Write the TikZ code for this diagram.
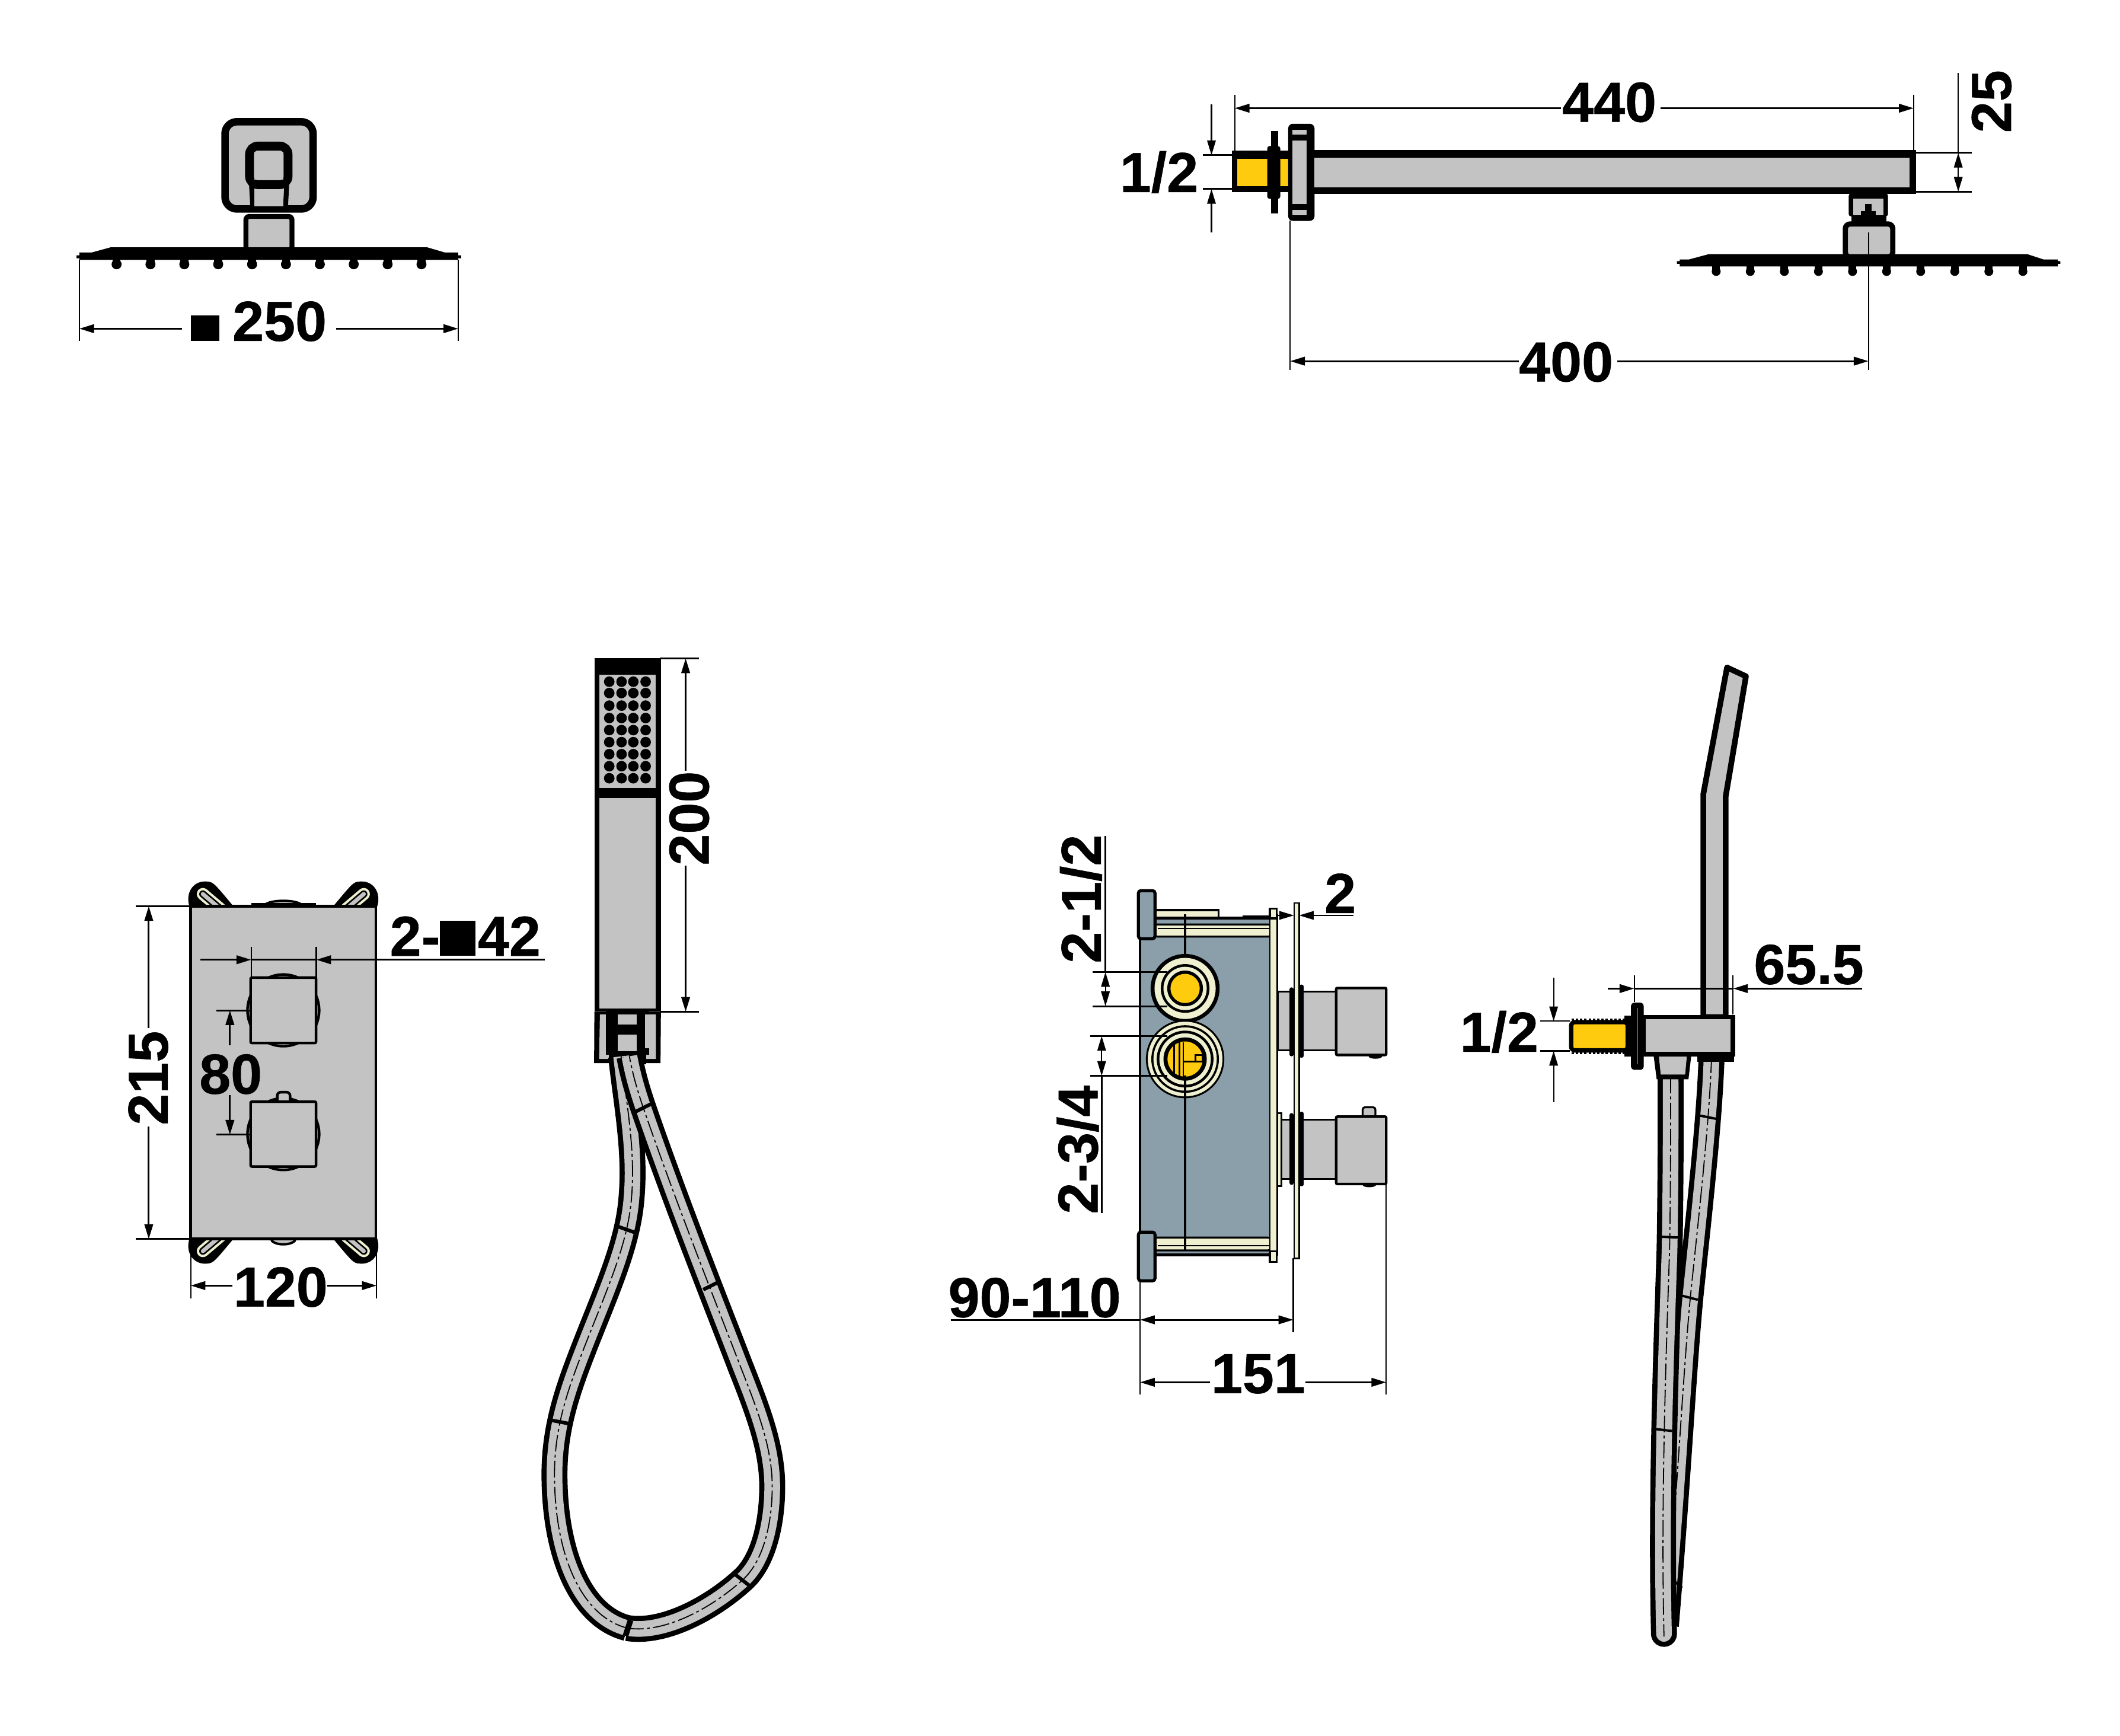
\documentclass[tikz,border=0pt]{standalone}
\usepackage{fontspec}
\setmainfont{Liberation Sans}
\newfontfamily\labf[UprightFont=* Bold,FakeBold=0.6]{Liberation Sans}
\usetikzlibrary{arrows.meta}
\definecolor{gy}{HTML}{C3C3C3}
\definecolor{pale}{HTML}{EEF0D0}
\definecolor{yel}{HTML}{FFCB0F}
\definecolor{blu}{HTML}{8A9FAA}
\def\uu{0.5703pt}
\tikzset{
  lab/.style={font=\fontsize{23.8}{24}\labf,inner sep=0pt,anchor=base,text=black},
  dimline/.style={line width=0.75pt},
  ext/.style={line width=0.55pt},
  gfill/.style={fill=gy,draw=black},
  blk/.style={fill=black,draw=none},
  >={Triangle[length=6.2pt,width=3.6pt]},
  tubeO/.style={line width=19.2*\uu,black},
  tubeI/.style={line width=11.6*\uu,gy},
  tubeD/.style={line width=0.45pt,black,dash pattern=on 7pt off 1.4pt on 1.2pt off 1.4pt},
  collar/.style={line width=1.5pt,black},
}
\newcommand{\tube}[1]{%
  \draw[tubeO] #1;
  \draw[tubeI] #1;
  \draw[tubeD] #1;}
\newcommand{\ear}[2]{%
  \begin{scope}[shift={(209.5,793)},xscale=#1,yscale=#2]
    \draw[fill=black,line width=1.2pt] (-68,-122) .. controls (-72,-132) and (-66,-142) .. (-55,-140) .. controls (-52,-139.5) and (-50,-137) .. (-37.5,-122) -- cycle;
    \draw[line width=9*\uu,pale,line cap=round] (-59.5,-132) -- (-46.5,-121);
    \draw[line width=5.4*\uu,black,line cap=round] (-59.5,-132) -- (-46.5,-121);
    \draw[line width=3*\uu,gy,line cap=round] (-59.5,-132) -- (-46.5,-121);
  \end{scope}}
\begin{document}
\begin{tikzpicture}[x=0.5703pt,y=-0.5703pt]
\useasboundingbox (0,0) rectangle (1567.6,1283.4);
\fill[white] (0,0) rectangle (1567.6,1283.4);

% ---------- top-left rain head, front view
\draw[gfill,line width=5.5*\uu,rounded corners=5pt] (166.4,90) rectangle (231.5,154.5);
\draw[black,fill=gy,line width=3.6*\uu] (186,137) -- (187,155) (211,155) -- (212,137);
\fill[gy] (188,141.5) rectangle (209.4,152.5);
\draw[gfill,line width=6.5*\uu,rounded corners=3.5pt] (184.5,108) rectangle (213,136.5);
\fill[gy] (188,112) rectangle (209.5,133);
\draw[black,line width=3.7*\uu,fill=gy,rounded corners=1.5pt] (181.8,160) rectangle (215.9,185);
\fill[black] (58.7,186.7) -- (67.7,186.7) -- (82,182.8) -- (315.7,182.8) -- (329,186.7) -- (338.8,186.7) -- (338.8,188.8) -- (341,188.8) -- (341,191) -- (338.8,191) -- (338.8,192.2) -- (58.7,192.2) -- (58.7,191) -- (56.6,191) -- (56.6,188.8) -- (58.7,188.8) -- cycle;
\foreach \k [evaluate=\k as \x using 86.2+25.05*\k] in {0,...,9} {
  \fill[black] (\x-3,191) rectangle (\x+3,195.5);
  \fill[black] (\x,195.4) circle (3.7);
}
\draw[ext] (58.7,192) -- (58.7,252);
\draw[ext] (338.8,192) -- (338.8,252);
\draw[dimline,<-] (58.7,243) -- (134.6,243);
\draw[dimline,->] (248.6,243) -- (338.8,243);
\node[lab] (d250) at (191.4,252) {\rule{11.9pt}{10.7pt}\hspace{5.6pt}250};

% ---------- top-right arm, side view
\fill[black] (911,111.2) rectangle (954,142);
\fill[yel] (914.8,117.4) rectangle (952.5,137.7);
\fill[black,rounded corners=1pt] (937,108) rectangle (946.7,147);
\fill[black] (940,97) rectangle (945,158);
\fill[black,rounded corners=2pt] (952.5,91.5) rectangle (972,163.3);
\fill[gy] (955.8,103.8) rectangle (966,151);
\fill[gy] (955.8,96) rectangle (966,99.7);
\fill[gy] (955.8,155) rectangle (966,159);
\fill[black] (972,110.8) rectangle (1417,143.5);
\fill[gy] (972,116.6) rectangle (1412,138.5);
\fill[black,rounded corners=1pt] (1367,143) rectangle (1396,160);
\fill[gy] (1370.5,147) rectangle (1392.5,159);
\fill[black] (1379,151) rectangle (1384,160);
\fill[black] (1376,156) rectangle (1387,162);
\fill[black] (1369,159) rectangle (1395,166);
\draw[black,line width=3.9*\uu,fill=gy,rounded corners=2pt] (1364.5,165.6) rectangle (1399.6,190);
\fill[black] (1242,191.8) -- (1249,191.8) -- (1263.5,187.9) -- (1499,187.9) -- (1511,191.8) -- (1521.6,191.8) -- (1521.6,193) -- (1523.5,193) -- (1523.5,195) -- (1521.6,195) -- (1521.6,197) -- (1242,197) -- (1242,195) -- (1240,195) -- (1240,193) -- (1242,193) -- cycle;
\foreach \k [evaluate=\k as \x using 1269+25.2*\k] in {0,...,9} {
  \fill[black] (\x-2.8,196) rectangle (\x+2.8,200.5);
  \fill[black] (\x,200.7) circle (3.3);
}
% arm dimensions
\draw[ext] (913,70) -- (913,113);
\draw[ext] (1415,70) -- (1415,112);
\draw[dimline,<-] (913,80) -- (1154,80);
\draw[dimline,->] (1228,80) -- (1415,80);
\node[lab] (d440) at (1190,90) {440};
\draw[dimline] (1417,113) -- (1458,113);
\draw[dimline] (1417,141.7) -- (1458,141.7);
\draw[ext] (1448,54) -- (1448,113);
\draw[ext,<->] (1448,113) -- (1448,141.7);
\node[lab,rotate=90] (d25) at (1487,75) {25};
\draw[dimline] (889.6,114.7) -- (913,114.7);
\draw[dimline] (889.6,139.8) -- (913,139.8);
\draw[ext,->] (895.8,77) -- (895.8,114.7);
\draw[ext,->] (895.8,171.7) -- (895.8,139.8);
\node[lab] (dhalfa) at (857,142) {1/2};
\draw[ext] (954,163) -- (954,273.5);
\draw[ext] (1381.6,172) -- (1381.6,273.5);
\draw[dimline,<-] (954,267) -- (1123,267);
\draw[dimline,->] (1196,267) -- (1381.6,267);
\node[lab] (d400) at (1158,282) {400};

% ---------- thermostat panel front
\ear{1}{1}\ear{-1}{1}\ear{1}{-1}\ear{-1}{-1}
\draw[black,fill=gy,line width=1pt] (209.5,670) ellipse (14 and 4);
\draw[black,fill=gy,line width=1pt] (209.5,916) ellipse (9 and 4);
\fill[black] (185.7,667.6) rectangle (233.7,670);
\draw[gfill,line width=1.1pt] (141,670) rectangle (278,916);
\draw[gfill,line width=1.1pt] (209.5,747) circle (26.5);
\draw[gfill,line width=1.1pt] (209.5,838.5) circle (26.5);
\draw[gfill,line width=1.1pt,rounded corners=1.5pt] (205,807.5) rectangle (214.5,816);
\draw[gfill,line width=1.1pt,rounded corners=.6pt] (185.3,722.8) rectangle (233.7,771.2);
\draw[gfill,line width=1.1pt,rounded corners=.6pt] (185.3,814.5) rectangle (233.7,862.5);
% panel dimensions
\draw[dimline] (100.5,670) -- (141,670);
\draw[dimline] (100.5,916) -- (141,916);
\draw[dimline,<-] (110,670) -- (110,760);
\draw[dimline,->] (110,833) -- (110,916);
\node[lab,rotate=90] (d215) at (124,797) {215};
\draw[ext] (185.7,700) -- (185.7,723);
\draw[ext] (233.9,700) -- (233.9,723);
\draw[dimline,->] (148,709.6) -- (185.7,709.6);
\draw[dimline] (185.7,709.6) -- (233.9,709.6);
\draw[dimline,<-] (233.9,709.6) -- (402.7,709.6);
\node[lab] (d242) at (344,706.7) {2-\rule{14.9pt}{14.7pt}\hspace{1pt}42};
\draw[dimline] (160,747) -- (185,747);
\draw[dimline] (160,838.9) -- (185,838.9);
\draw[dimline,<-] (170,747) -- (170,772.7);
\draw[dimline,->] (170,809.7) -- (170,838.9);
\node[lab] (d80) at (170.6,808.6) {80};
\draw[ext] (141,916) -- (141,960);
\draw[ext] (278.5,905) -- (278.5,960);
\draw[dimline,<-] (141,950.5) -- (172,950.5);
\draw[dimline,->] (242,950.5) -- (278.5,950.5);
\node[lab] (d120) at (207.5,966) {120};

% ---------- hand shower front
\fill[black] (439.5,748) -- (439.3,786) -- (488.4,786) -- (488.7,748) -- cycle;
\fill[gy] (443.6,750) -- (443,783) -- (485,783) -- (485,750) -- cycle;
\fill[black] (448,748) -- (448,780) -- (480,780) -- (480,748) -- cycle;
\fill[gy] (456.7,750) rectangle (471,757.3);
\fill[gy] (456.7,765) rectangle (471,777);
\fill[gy] (477,750) rectangle (480,775);
\fill[black] (450,777) rectangle (478,787);
\fill[black] (452,787) -- (476,787) -- (474,795) -- (453,795) -- cycle;
\fill[black] (439.5,486.5) rectangle (488.7,748);
\fill[gy] (443,499) rectangle (485,582.5);
\fill[gy] (443,590) rectangle (485,745.5);
\foreach \xx in {450.5,459.6,468.3,477.4}
  \foreach \yy in {504,512.4,521.7,530.9,539.8,548.7,557.6,566.5,575.4}
    \fill[black] (\xx,\yy) circle (3.9);
\draw[dimline] (488,486.8) -- (517,486.8);
\draw[dimline] (488,748) -- (517,748);
\draw[dimline,<-] (507,486.8) -- (507,570);
\draw[dimline,->] (507,640) -- (507,748);
\node[lab,rotate=90] (d200) at (524,605) {200};

% ---------- hose loop
\tube{(459.3,781) .. controls (463,815) and (470,850) .. (467,885) .. controls (464.5,920) and (448,955) .. (431.7,997) .. controls (420,1027) and (410,1055) .. (410,1090) .. controls (410,1150) and (430,1195) .. (463.7,1203.7)}
\tube{(463.7,1203.7) .. controls (490,1208) and (525,1190) .. (549,1168.2) .. controls (565,1154) and (571,1125) .. (571,1099) .. controls (571,1070) and (560,1042) .. (546.9,1008.8) .. controls (534,975) and (500,890) .. (474.9,816.8) .. controls (471,805) and (468,795) .. (465.4,781)}
\draw[collar] (457.4,907) -- (469.8,911.4);
\draw[collar] (407.3,1050) -- (420.4,1052.5);
\draw[collar,line width=2.4pt] (466.2,1198) -- (462.5,1209.5);
\draw[collar] (544,1164.4) -- (554.1,1172.3);
\draw[collar] (520,953.5) -- (531.6,947.7);
\draw[collar] (469.8,822) -- (481.4,816.2);

% ---------- mixing box side view
\draw[fill=blu,line width=1.2pt] (843,678.7) rectangle (941,927.7);
\draw[fill=pale,line width=.9pt] (854,673) rectangle (901,678.7);
\fill[black] (919,677) rectangle (939,679.5);
\draw[fill=pale,line width=.8pt,rounded corners=2pt] (852,683.5) rectangle (941,692.5);
\draw[line width=.6pt] (856,686.5) -- (941,686.5);
\draw[fill=pale,line width=.8pt,rounded corners=2pt] (852,915) rectangle (941,924.5);
\draw[line width=.6pt] (856,921) -- (941,921);
\draw[fill=blu,line width=1.3pt,rounded corners=1pt] (841.8,658.5) rectangle (854,694);
\draw[fill=blu,line width=1.3pt,rounded corners=1pt] (841.8,911) rectangle (854,947);
\draw[fill=pale,line width=.7pt] (939,676) rectangle (944.6,928);
\draw[fill=pale,line width=.8pt] (939,671.7) rectangle (944,679);
\draw[fill=pale,line width=.8pt] (939,925) rectangle (944,933);
\draw[line width=.8pt] (876.3,676) -- (876.3,925);
% pipe connections
\foreach \cy/\r in {730.8/25.5,783/29} {
  \fill[black] (876.3,\cy) circle (\r);
}
\fill[pale] (876.3,730.8) circle (22.6);
\fill[black] (876.3,730.8) circle (18);
\fill[pale] (876.3,730.8) circle (16);
\fill[black] (876.3,730.8) circle (13.2);
\fill[yel] (876.3,730.8) circle (10.8);
\fill[pale] (876.3,783) circle (27.6);
\fill[black] (876.3,783) circle (25);
\fill[pale] (876.3,783) circle (23.4);
\fill[black] (876.3,783) circle (21);
\fill[pale] (876.3,783) circle (19);
\fill[black] (876.3,783) circle (16);
\fill[yel] (876.3,783) circle (13);
\draw[line width=.7pt] (868.2,771.5) -- (868.2,795);
\draw[line width=.7pt] (872,770.5) -- (872,796);
\draw[line width=.7pt] (875,785) -- (889,785);
\draw[line width=.7pt] (875,770.5) -- (875,796);
\draw[line width=.7pt] (884,785) rectangle (889,780);
\draw[line width=.8pt] (876.3,795) -- (876.3,812);
% knobs
\draw[fill=gy,line width=.8pt] (945,733) rectangle (988,776.6);
\draw[fill=pale,line width=.7pt] (944.6,823) rectangle (947.5,877);
\draw[fill=gy,line width=.8pt] (947.5,827.8) rectangle (988,871.7);
\draw[fill=pale,line width=.6pt] (956.9,667.5) rectangle (960.6,930.5);
\fill[black,rounded corners=.8pt] (953.5,730) rectangle (956.5,781);
\fill[black,rounded corners=.8pt] (960.6,728) rectangle (964,782);
\fill[black,rounded corners=.8pt] (953.5,823) rectangle (956.5,876);
\fill[black,rounded corners=.8pt] (960.6,822) rectangle (964,877);
\fill[black] (1017,781) ellipse (5 and 1.8);
\fill[black] (1012.5,876) ellipse (5 and 1.8);
\draw[gfill,line width=.8pt,rounded corners=1pt] (1007.6,818.6) rectangle (1017,827);
\draw[gfill,line width=1.1pt,rounded corners=.5pt] (988,730.5) rectangle (1025,780);
\draw[gfill,line width=1.1pt,rounded corners=.5pt] (988,825.6) rectangle (1025,875.4);
% box dimensions
\draw[dimline] (808,718.7) -- (863,718.7);
\draw[dimline] (808,743.9) -- (863,743.9);
\draw[dimline] (817.4,618) -- (817.4,718.7);
\draw[ext,<->] (817.4,718.7) -- (817.4,743.9);
\node[lab,rotate=90] (d212) at (814,664.6) {2-1/2};
\draw[dimline] (806,766) -- (863,766);
\draw[dimline] (806,795.4) -- (863,795.4);
\draw[dimline] (814.6,795.4) -- (814.6,897);
\draw[ext,<->] (814.6,766) -- (814.6,795.4);
\node[lab,rotate=90] (d234) at (811.6,850) {2-3/4};
\draw[ext,->] (945,676.8) -- (956.8,676.8);
\draw[ext,<-] (960.6,676.8) -- (1000.7,676.8);
\node[lab] (d2) at (991,675) {2};
\draw[ext] (956.3,930) -- (956.3,985);
\draw[ext] (843,947) -- (843,1031);
\draw[ext] (1025,876) -- (1025,1031);
\draw[dimline] (703,975.8) -- (843,975.8);
\draw[dimline,<->] (843,975.8) -- (956.3,975.8);
\node[lab] (d90) at (765,973.8) {90-110};
\draw[dimline,<-] (843,1022) -- (894.8,1022);
\draw[dimline,->] (965.2,1022) -- (1025,1022);
\node[lab] (d151) at (930.4,1030) {151};

% ---------- hand shower side view
\tube{(1265.6,781) .. controls (1264,830) and (1256,900) .. (1250,958) .. controls (1245,1010) and (1241,1090) .. (1231.8,1202)}
\draw[tubeO,line cap=round] (1235.3,796) .. controls (1235.5,850) and (1235,900) .. (1234.5,925) .. controls (1232,1000) and (1228,1110) .. (1230.4,1208);
\draw[tubeI,line cap=round] (1235.3,796) .. controls (1235.5,850) and (1235,900) .. (1234.5,925) .. controls (1232,1000) and (1228,1110) .. (1230.4,1208);
\draw[tubeD] (1235.3,796) .. controls (1235.5,850) and (1235,900) .. (1234.5,925) .. controls (1232,1000) and (1228,1110) .. (1230.4,1210);
\draw[collar,line width=1pt] (1228.5,914.4) -- (1241.6,915);
\draw[collar,line width=1pt] (1223.4,1056.5) -- (1236.5,1058);
\draw[collar,line width=1pt] (1255.4,824.5) -- (1270,827.4);
\draw[collar,line width=1pt] (1243.8,958) -- (1255.4,961);
\draw[collar,line width=1pt] (1238.7,1169.6) -- (1243.8,1174);
\fill[black] (1222.8,781) -- (1250.5,781) -- (1248.5,798) -- (1225,798) -- cycle;
\fill[gy] (1226.6,781) -- (1247.3,781) -- (1246,794.5) -- (1228,794.5) -- cycle;
\fill[black] (1255,780) rectangle (1282,785);
\draw[gfill,line width=4.2*\uu,line join=round] (1277,493.5) -- (1291,500) -- (1276,589) -- (1276,752) -- (1259.5,752) -- (1259.5,587) -- cycle;
\fill[black] (1201,751) rectangle (1207,781);
\draw[fill=black,draw=none,rounded corners=1.5pt] (1206,741.3) rectangle (1215.4,791);
\draw[pale,line width=.4pt] (1210.5,745) -- (1210.5,787);
\draw[gfill,line width=3.5*\uu] (1215,752) rectangle (1281.5,779.5);
\draw[fill=yel,line width=3.2*\uu,rounded corners=1.5pt] (1161.8,755.7) rectangle (1203.5,776.6);
\draw[line width=1.2*\uu,dash pattern=on 1pt off .8pt] (1162,753.8) -- (1203,753.8);
\draw[line width=1.2*\uu,dash pattern=on 1pt off .8pt] (1162,778.6) -- (1203,778.6);
% side view dimensions
\draw[ext] (1208.4,721.3) -- (1208.4,741);
\draw[ext] (1281.5,721.3) -- (1281.5,750);
\draw[dimline,->] (1189,730.9) -- (1208.4,730.9);
\draw[dimline] (1208.4,730.9) -- (1281.5,730.9);
\draw[dimline,<-] (1281.5,730.9) -- (1377,730.9);
\node[lab] (d655) at (1337.5,727.5) {65.5};
\draw[ext] (1138.8,755) -- (1161,755);
\draw[ext] (1138.8,777) -- (1161,777);
\draw[ext,->] (1148.8,723) -- (1148.8,755);
\draw[ext,->] (1148.8,814.8) -- (1148.8,777);
\node[lab] (dhalfb) at (1108.5,777.6) {1/2};
\end{tikzpicture}
\end{document}
